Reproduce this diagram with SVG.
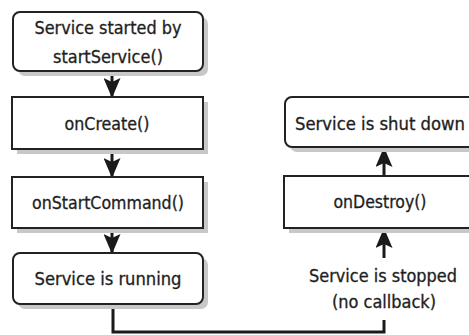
<svg xmlns="http://www.w3.org/2000/svg" width="469" height="335" viewBox="0 0 469 335">
<style>
.box{fill:#fff;stroke:#222;stroke-width:2}
.sh{fill:#c8c8c8}
.t{font-family:"DejaVu Sans Condensed","DejaVu Sans",sans-serif;font-stretch:condensed;font-size:17.5px;fill:#1e1e1e;text-anchor:middle;stroke:#1e1e1e;stroke-width:0.3}
.c{fill:none;stroke:#1a1a1a;stroke-width:3}
</style>
<defs>
<marker id="ah" viewBox="0 0 20 17" refX="19" refY="8.5" markerWidth="20" markerHeight="17" markerUnits="userSpaceOnUse" orient="auto">
<path d="M0,0 L20,8.5 L0,17 L4,8.5 Z" fill="#1a1a1a"/>
</marker>
</defs>
<rect width="469" height="335" fill="#fff"/>
<g id="connectors">
<line class="c" x1="112" y1="72" x2="112" y2="97" marker-end="url(#ah)"/>
<line class="c" x1="112" y1="150" x2="112" y2="177" marker-end="url(#ah)"/>
<line class="c" x1="112" y1="229" x2="112" y2="253" marker-end="url(#ah)"/>
<polyline class="c" points="113,305 113,332 384,332 384,320"/>
<line class="c" x1="384" y1="258" x2="384" y2="229" marker-end="url(#ah)"/>
<line class="c" x1="384" y1="176" x2="384" y2="148" marker-end="url(#ah)"/>
</g>
<g id="n1">
<rect class="sh" x="18" y="17" width="190" height="59" rx="7"/>
<rect class="box" x="13" y="12" width="190" height="59" rx="7"/>
<text class="t" x="108" y="34" textLength="147" lengthAdjust="spacingAndGlyphs">Service started by</text>
<text class="t" x="108" y="63" textLength="110" lengthAdjust="spacingAndGlyphs">startService()</text>
</g>
<g id="n2">
<rect class="sh" x="17" y="102" width="191" height="52"/>
<rect class="box" x="12" y="97" width="191" height="52"/>
<text class="t" x="107" y="130" textLength="85" lengthAdjust="spacingAndGlyphs">onCreate()</text>
</g>
<g id="n3">
<rect class="sh" x="17" y="182" width="191" height="51"/>
<rect class="box" x="12" y="177" width="191" height="51"/>
<text class="t" x="108" y="209" textLength="152" lengthAdjust="spacingAndGlyphs">onStartCommand()</text>
</g>
<g id="n4">
<rect class="sh" x="18" y="258" width="190" height="51" rx="7"/>
<rect class="box" x="13" y="253" width="190" height="51" rx="7"/>
<text class="t" x="108" y="285" textLength="147" lengthAdjust="spacingAndGlyphs">Service is running</text>
</g>
<g id="n5">
<rect class="sh" x="290" y="102" width="198" height="50" rx="7"/>
<rect class="box" x="285" y="97" width="198" height="50" rx="7"/>
<text class="t" x="380" y="130" textLength="170" lengthAdjust="spacingAndGlyphs">Service is shut down</text>
</g>
<g id="n6">
<rect class="sh" x="289" y="181" width="199" height="52"/>
<rect class="box" x="284" y="176" width="199" height="52"/>
<text class="t" x="380" y="208" textLength="93" lengthAdjust="spacingAndGlyphs">onDestroy()</text>
</g>
<g id="n7">
<text class="t" x="383" y="282" textLength="148" lengthAdjust="spacingAndGlyphs">Service is stopped</text>
<text class="t" x="384" y="308" textLength="104" lengthAdjust="spacingAndGlyphs">(no callback)</text>
</g>
</svg>
